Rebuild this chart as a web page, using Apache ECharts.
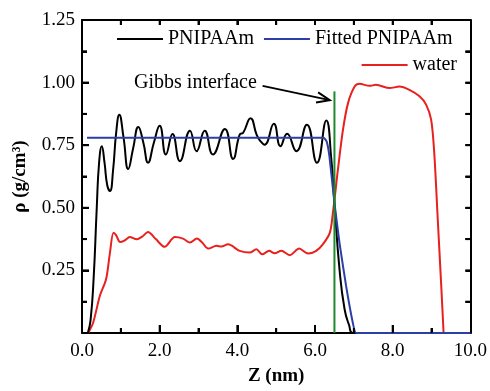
<!DOCTYPE html>
<html><head><meta charset="utf-8">
<script src="https://cdn.jsdelivr.net/npm/echarts@6/dist/echarts.min.js"></script>
<style>html,body{margin:0;padding:0;background:#fff}#c{width:490px;height:391px}</style>
</head><body><div id="c"></div>
<script>
// ---- data ----
const pnipaamZ   = [0.15,0.22,0.30,0.38,0.44,0.51,0.58,0.65,0.72,0.80,0.88,0.96,1.07,1.19,1.32,1.45,1.58,1.70,1.85,2.00,2.16,2.33,2.52,2.78,2.95,3.16,3.37,3.68,3.89,4.06,4.15,4.34,4.50,4.60,4.70,4.94,5.11,5.28,5.52,5.79,6.05,6.29,6.42,6.50,6.63,6.76,6.88,6.97,10.0];
const pnipaamRho = [0.00,0.05,0.22,0.50,0.68,0.746,0.68,0.59,0.567,0.65,0.80,0.872,0.78,0.655,0.74,0.823,0.76,0.68,0.76,0.828,0.713,0.795,0.686,0.808,0.726,0.808,0.713,0.815,0.695,0.792,0.80,0.858,0.79,0.765,0.752,0.836,0.746,0.796,0.726,0.832,0.68,0.849,0.693,0.52,0.255,0.096,0.03,0.0,0.0];
const fittedZ   = [0.13,6.22,6.30,6.37,6.50,6.63,6.80,6.97,7.06,10.0];
const fittedRho = [0.78,0.78,0.765,0.706,0.52,0.36,0.188,0.043,0.0,0.0];
const waterZ   = [0.16,0.29,0.46,0.62,0.72,0.81,0.88,0.98,1.10,1.23,1.41,1.55,1.70,1.90,2.13,2.39,2.60,2.78,2.96,3.10,3.25,3.46,3.59,3.76,4.06,4.32,4.49,4.64,4.82,4.96,5.13,5.35,5.59,5.82,6.03,6.20,6.38,6.46,6.59,6.72,6.85,7.02,7.15,7.40,7.57,7.92,8.17,8.43,8.69,8.86,8.99,9.07,9.16,9.25,9.31];
const waterRho = [0.0,0.043,0.149,0.215,0.321,0.40,0.39,0.363,0.37,0.383,0.374,0.385,0.403,0.375,0.344,0.383,0.377,0.361,0.377,0.36,0.337,0.348,0.345,0.354,0.328,0.321,0.334,0.314,0.328,0.318,0.328,0.311,0.337,0.317,0.328,0.354,0.40,0.48,0.653,0.812,0.918,0.984,0.995,0.987,0.991,0.978,0.984,0.971,0.945,0.912,0.852,0.719,0.454,0.188,0.0];
const gibbsZ = 6.5;
const gibbsTop = 0.965;
const xTicks = [0,2,4,6,8,10];
const xMinorTicks = [1,3,5,7,9];
const yTicks = [0.25,0.5,0.75,1.0,1.25];
const yMinorTicks = [0.125,0.375,0.625,0.875,1.125];
const seriesNames = ['PNIPAAm','Fitted PNIPAAm','water'];
const annotationText = 'Gibbs interface';
const annotationAnchor = [1.34, 1.0];     // text left / middle (data coords)
const arrowFrom = [4.65, 0.987];
const arrowTo = [6.38, 0.93];

const zip = (a,b) => a.map((v,i)=>[v,b[i]]);
const FONT = 'Liberation Serif';
const xMin = 0, xMax = 10, yMin = 0, yMax = 1.25;

// tick marks as [x, y, dxPx, dyPx]: base point in data space, inward direction in pixels
const tickData = [];
xTicks.filter(v=>v>xMin && v<xMax).forEach(v=>tickData.push([v,yMin,0,-8]));
xMinorTicks.forEach(v=>tickData.push([v,yMin,0,-5]));
xTicks.concat(xMinorTicks).filter(v=>v>xMin && v<xMax).forEach(v=>tickData.push([v,yMax,0,5]));
yTicks.filter(v=>v<yMax).forEach(v=>tickData.push([xMin,v,7,0]));
yMinorTicks.forEach(v=>tickData.push([xMin,v,5,0]));
yTicks.concat(yMinorTicks).filter(v=>v<yMax).forEach(v=>tickData.push([xMax,v,-5,0]));

const chart = echarts.init(document.getElementById('c'));
const mkLine = () => ({show:true, onZero:false, lineStyle:{color:'#000', width:2}});
const mkTick = (len) => ({show:true, inside:true, length:len, lineStyle:{color:'#000', width:2}});
chart.setOption({
  animation:false,
  backgroundColor:'#fff',
  textStyle:{fontFamily:FONT},
  grid:{left:82, right:19, top:20, bottom:57},
  legend:[
    {data:[seriesNames[0],seriesNames[1]], left:112, top:24, icon:'rect', itemWidth:46, itemHeight:2, itemGap:10, itemStyle:{borderWidth:0},
     textStyle:{fontFamily:FONT, fontSize:20, color:'#000'}},
    {data:[seriesNames[2]], right:28, top:50, icon:'rect', itemWidth:46, itemHeight:2, itemStyle:{borderWidth:0},
     textStyle:{fontFamily:FONT, fontSize:20, color:'#000'}}
  ],
  xAxis:[
    {type:'value', min:xMin, max:xMax, interval:2, position:'bottom',
     name:'Z (nm)', nameLocation:'middle', nameGap:34,
     nameTextStyle:{fontFamily:FONT, fontSize:19, fontWeight:'bold', color:'#000'},
     axisLine:mkLine(), axisTick:mkTick(8),
     minorTick:{show:true, splitNumber:2, length:5, lineStyle:{color:'#000', width:2}},
     axisLabel:{show:true, fontFamily:FONT, fontSize:19, color:'#000', margin:9, formatter:v=>v.toFixed(1)},
     splitLine:{show:false}, minorSplitLine:{show:false}},
    {type:'value', min:xMin, max:xMax, interval:1, position:'top',
     axisLine:mkLine(), axisTick:mkTick(5),
     axisLabel:{show:false}, splitLine:{show:false}}
  ],
  yAxis:[
    {type:'value', min:yMin, max:yMax, interval:0.25, position:'left',
     name:'ρ (g/cm³)', nameLocation:'middle', nameGap:52, nameRotate:90,
     nameTextStyle:{fontFamily:FONT, fontSize:19, fontWeight:'bold', color:'#000'},
     axisLine:mkLine(), axisTick:mkTick(7),
     minorTick:{show:true, splitNumber:2, length:5, lineStyle:{color:'#000', width:2}},
     axisLabel:{show:true, fontFamily:FONT, fontSize:19, color:'#000', margin:7,
       formatter:v=> v===0 ? '' : v.toFixed(2)},
     splitLine:{show:false}, minorSplitLine:{show:false}},
    {type:'value', min:yMin, max:yMax, interval:0.125, position:'right',
     axisLine:mkLine(), axisTick:mkTick(5),
     axisLabel:{show:false}, splitLine:{show:false}}
  ],
  series:[
    {name:seriesNames[2], type:'line', data:zip(waterZ,waterRho), showSymbol:false, smooth:0.3,
     lineStyle:{color:'#e8201e', width:2}, itemStyle:{color:'#e8201e'}, z:2},
    {name:seriesNames[0], type:'line', data:zip(pnipaamZ,pnipaamRho), showSymbol:false, smooth:0.5,
     lineStyle:{color:'#000', width:2}, itemStyle:{color:'#000'}, z:3},
    {name:seriesNames[1], type:'line', data:zip(fittedZ,fittedRho), showSymbol:false, smooth:0.15,
     lineStyle:{color:'#2b3fa6', width:2}, itemStyle:{color:'#2b3fa6'}, z:4},
    {name:'gibbs', type:'line', data:[[gibbsZ,0],[gibbsZ,gibbsTop]], showSymbol:false,
     lineStyle:{color:'#1d8a2e', width:2}, z:5},
    {name:'ticks', type:'custom', data:tickData, clip:false, silent:true, z:10,
     encode:{x:0, y:1},
     renderItem:(params, api) => {
       const p = api.coord([api.value(0), api.value(1)]);
       return {type:'line', shape:{x1:p[0], y1:p[1], x2:p[0]+api.value(2), y2:p[1]+api.value(3)},
               style:{stroke:'#000', lineWidth:2}};
     }}
  ]
});
// annotation placed from data values through the grid's scales
const px = (p) => chart.convertToPixel({gridIndex:0}, p);
const tp = px(annotationAnchor);
const a0 = px(arrowFrom);
const a1 = px(arrowTo);
const ang = Math.atan2(a1[1]-a0[1], a1[0]-a0[0]);
const L = 14, da = 0.38;
const h1 = [a1[0]-L*Math.cos(ang-da), a1[1]-L*Math.sin(ang-da)];
const h2 = [a1[0]-L*Math.cos(ang+da), a1[1]-L*Math.sin(ang+da)];
chart.setOption({graphic:[
  {type:'text', x:tp[0], y:tp[1], style:{text:annotationText, fontFamily:FONT, fontSize:20, fill:'#000', verticalAlign:'middle', align:'left'}},
  {type:'polyline', shape:{points:[a0,a1]}, style:{stroke:'#000', lineWidth:2, fill:null}},
  {type:'polyline', shape:{points:[h1,a1,h2]}, style:{stroke:'#000', lineWidth:2, fill:null}}
]});
</script></body></html>
